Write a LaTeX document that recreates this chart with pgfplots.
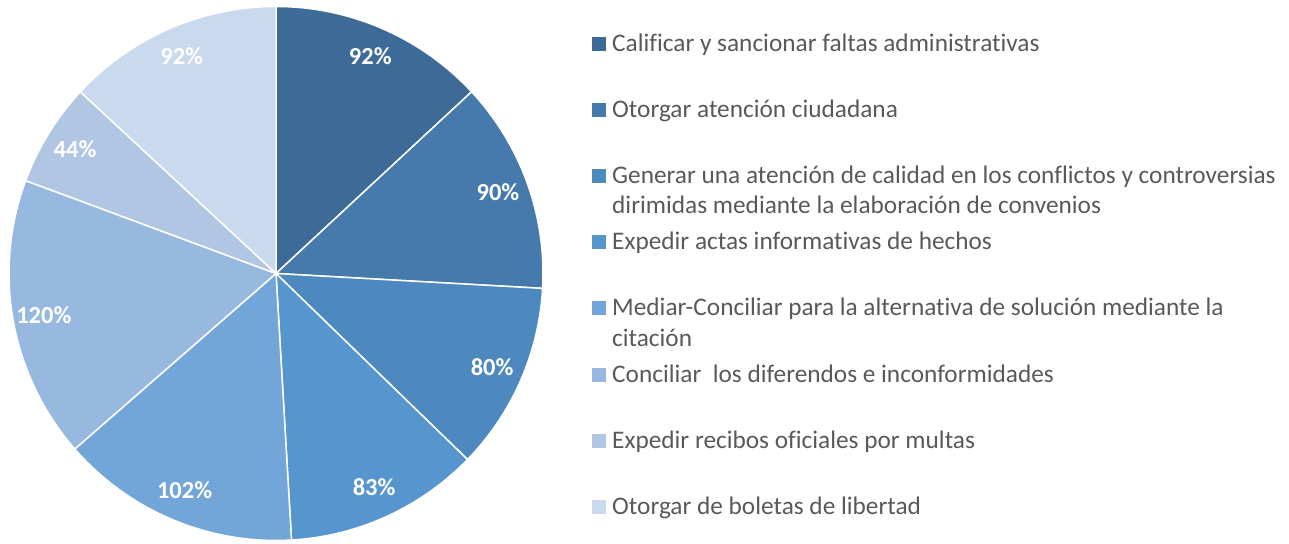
\documentclass[border=0pt]{standalone}
\usepackage{fontspec}
\setmainfont{Carlito}[Ligatures=NoCommon]
\usepackage{pgfplots}
\usepackage{pgfplotstable}
\pgfplotsset{compat=1.18}

\definecolor{pie1}{HTML}{3E6A97}
\definecolor{pie2}{HTML}{4679AC}
\definecolor{pie3}{HTML}{4D88BF}
\definecolor{pie4}{HTML}{5795CF}
\definecolor{pie5}{HTML}{72A5D8}
\definecolor{pie6}{HTML}{98B9DF}
\definecolor{pie7}{HTML}{B1C6E3}
\definecolor{pie8}{HTML}{C9D9EE}
\definecolor{legtext}{HTML}{595959}

% percentages, clockwise from 12 o'clock
\pgfplotstableread{
v
92
90
80
83
102
120
44
92
}\pie

\begin{document}
\begin{tikzpicture}
\begin{axis}[
    scale only axis,
    width=1289pt, height=543pt,
    xmin=0, xmax=1289, ymin=0, ymax=543,
    hide axis, clip=false]
\path[use as bounding box] (axis cs:0,0) rectangle (axis cs:1289,543);
% total of all slices
\xdef\total{0}
\pgfplotsinvokeforeach{0,...,7}{
    \pgfplotstablegetelem{#1}{v}\of\pie
    \pgfmathsetmacro\tmp{\total+\pgfplotsretval}\xdef\total{\tmp}
}
% slices and their labels
\xdef\cum{0}
\pgfplotsinvokeforeach{0,...,7}{
    \pgfplotstablegetelem{#1}{v}\of\pie \let\val\pgfplotsretval
    \pgfmathsetmacro\aS{90-\cum/\total*360}
    \pgfmathsetmacro\aE{90-(\cum+\val)/\total*360}
    \pgfmathsetmacro\aM{(\aS+\aE)/2}
    \pgfmathtruncatemacro\k{#1+1}
    \edef\temp{
        \noexpand\fill[pie\k, draw=white, line width=1.5pt]
            (axis cs:276,269.5) -- ++(\aS:267pt)
            arc[start angle=\aS, end angle=\aE, radius=267pt] -- cycle;
        \noexpand\node[font=\noexpand\fontsize{24.5}{28}\noexpand\selectfont\noexpand\bfseries, text=white]
            at ([shift={(\aM:236pt)}]axis cs:276,270.5) {\val\noexpand\%};
    }
    \temp
    \pgfmathsetmacro\tmp{\cum+\val}\xdef\cum{\tmp}
}
% legend
\begin{scope}[every node/.style={anchor=base west, inner sep=0pt, text=legtext,
        font=\fontsize{25.3}{28}\selectfont}]
\fill[pie1] (axis cs:592,492) rectangle (axis cs:606,506);
\node at (axis cs:612,491) {Calificar y sancionar faltas administrativas};
\fill[pie2] (axis cs:592,426) rectangle (axis cs:606,440);
\node at (axis cs:612,425) {Otorgar atención ciudadana};
\fill[pie3] (axis cs:592,360) rectangle (axis cs:606,374);
\node at (axis cs:612,359) {Generar una atención de calidad en los conflictos y controversias};
\node at (axis cs:612,329) {dirimidas mediante la elaboración de convenios};
\fill[pie4] (axis cs:592,294) rectangle (axis cs:606,308);
\node at (axis cs:612,293) {Expedir actas informativas de hechos};
\fill[pie5] (axis cs:592,228) rectangle (axis cs:606,242);
\node at (axis cs:612,227) {Mediar-Conciliar para la alternativa de solución mediante la};
\node at (axis cs:612,196) {citación};
\fill[pie6] (axis cs:592,161) rectangle (axis cs:606,175);
\node at (axis cs:612,160) {Conciliar\ \ los diferendos e inconformidades};
\fill[pie7] (axis cs:592,95) rectangle (axis cs:606,109);
\node at (axis cs:612,94) {Expedir recibos oficiales por multas};
\fill[pie8] (axis cs:592,29) rectangle (axis cs:606,43);
\node at (axis cs:612,28) {Otorgar de boletas de libertad};
\end{scope}
\end{axis}
\end{tikzpicture}
\end{document}
